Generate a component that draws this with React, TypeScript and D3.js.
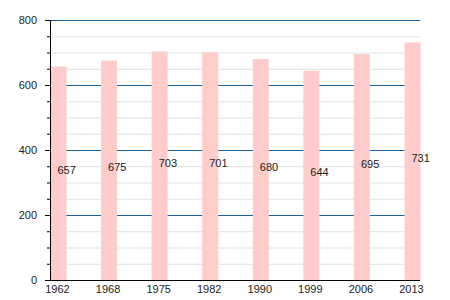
import React from "react";
import * as d3 from "d3";

const years = ["1962", "1968", "1975", "1982", "1990", "1999", "2006", "2013"];
const population = [657, 675, 703, 701, 680, 644, 695, 731];
const majorTicks = [0, 200, 400, 600, 800];
const minorTicks = d3.range(0, 801, 50);

export default function App() {
  const W = 450, H = 300;
  const left = 50, right = 420, top = 20, bottom = 280;
  const x = d3.scalePoint<string>().domain(years).range([58.5, 412.5]);
  const y = d3.scaleLinear().domain([0, 800]).range([bottom, top]);
  const bw = 16;
  const font = "Liberation Sans, Arial, sans-serif";
  return (
    <svg width={W} height={H} style={{ position: "absolute", left: 0, top: 0 }} fontFamily={font}>
      <rect width={W} height={H} fill="#fff" />
      {minorTicks.filter((t) => t % 200 !== 0).map((t) => (
        <line key={"g" + t} x1={left} x2={right} y1={y(t) + 0.5} y2={y(t) + 0.5} stroke="#e2e2e2" strokeWidth={1} />
      ))}
      {majorTicks.filter((t) => t !== 0).map((t) => (
        <line key={"G" + t} x1={left} x2={right} y1={y(t) + 0.5} y2={y(t) + 0.5} stroke="#1c619e" strokeWidth={1} />
      ))}
      {years.map((yr, i) => (
        <rect key={yr} x={x(yr)! - bw / 2} y={y(population[i])} width={bw} height={bottom - y(population[i])} fill="#ffcccc" />
      ))}
      {years.map((yr, i) => (
        <text key={"l" + yr} x={x(yr)! - 1} y={(y(population[i]) + bottom) / 2 + 1} fontSize={11} fill="#222">
          {population[i]}
        </text>
      ))}
      {minorTicks.map((t) => (
        <line key={"t" + t} x1={t % 200 === 0 ? left - 5 : left - 3} x2={left} y1={y(t) + 0.5} y2={y(t) + 0.5} stroke="#000" />
      ))}
      <line x1={left + 0.5} x2={left + 0.5} y1={top} y2={bottom + 0.5} stroke="#000" />
      <line x1={left} x2={right} y1={bottom + 0.5} y2={bottom + 0.5} stroke="#000" />
      {majorTicks.map((t) => (
        <text key={"y" + t} x={37} y={y(t) + 4} fontSize={11} textAnchor="end" fill="#222">
          {t}
        </text>
      ))}
      {years.map((yr) => (
        <text key={"x" + yr} x={x(yr)! - 1} y={293} fontSize={11} textAnchor="middle" fill="#222">
          {yr}
        </text>
      ))}
    </svg>
  );
}
